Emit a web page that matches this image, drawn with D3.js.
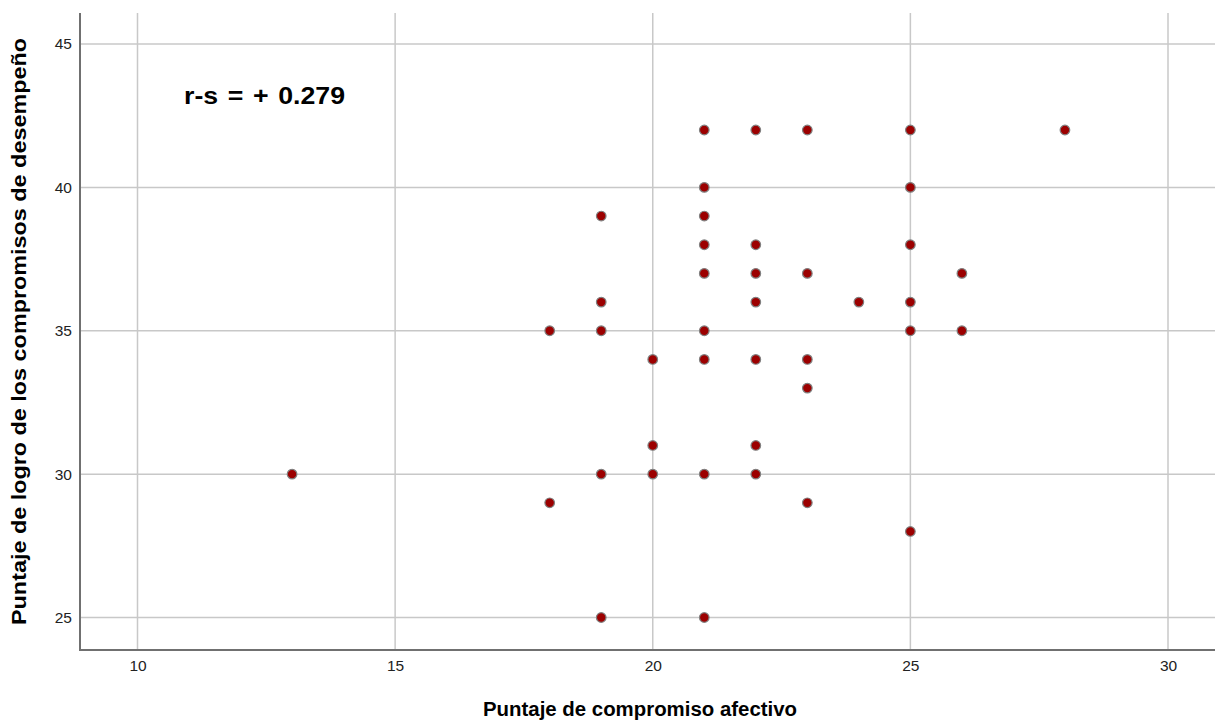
<!DOCTYPE html>
<html><head><meta charset="utf-8">
<script src="https://cdn.jsdelivr.net/npm/d3@7"></script>
<style>body{margin:0;background:#fff}svg{display:block}</style>
</head><body>
<svg id="c" width="1215" height="723"></svg>
<script>
const xTicks = [10, 15, 20, 25, 30];
const yTicks = [25, 30, 35, 40, 45];
const xValues = [13, 18,18, 19,19,19,19,19, 20,20,20, 21,21,21,21,21,21,21,21,21, 22,22,22,22,22,22,22, 23,23,23,23,23, 24, 25,25,25,25,25,25, 26,26, 28];
const yValues = [30, 35,29, 39,36,35,30,25, 34,31,30, 42,40,39,38,37,35,34,30,25, 42,38,37,36,34,31,30, 42,37,34,33,29, 36, 42,40,38,36,35,28, 37,35, 42];
const xTitle = "Puntaje de compromiso afectivo";
const yTitle = "Puntaje de logro de los compromisos de desempeño";
const annotation = "r-s = + 0.279";

const svg = d3.select("#c");
const L = 80, R = 1215, T = 13, B = 650;
const x = d3.scaleLinear().domain([10, 30]).range([137.5, 1168]);
const y = d3.scaleLinear().domain([25, 45]).range([617.5, 44]);
const font = "'Liberation Sans', Arial, sans-serif";

const grid = svg.append("g").attr("stroke", "#c8c8c8").attr("stroke-width", 1.5);
xTicks.forEach(t => grid.append("line").attr("x1", x(t)).attr("x2", x(t)).attr("y1", T).attr("y2", B));
yTicks.forEach(t => grid.append("line").attr("x1", L).attr("x2", R).attr("y1", y(t)).attr("y2", y(t)));

const xAxis = svg.append("g").attr("transform", `translate(0,${B})`)
  .call(d3.axisBottom(x).tickValues(xTicks).tickSize(0).tickPadding(10));
const yAxis = svg.append("g").attr("transform", `translate(${L},0)`)
  .call(d3.axisLeft(y).tickValues(yTicks).tickSize(0).tickPadding(8));
[xAxis, yAxis].forEach(a => {
  a.select(".domain").remove();
  a.selectAll("text").attr("font-family", font).attr("font-size", 15.5).attr("fill", "#222");
});
svg.append("line").attr("x1", L).attr("x2", L).attr("y1", T).attr("y2", B + 1).attr("stroke", "#707070").attr("stroke-width", 2);
svg.append("line").attr("x1", L - 1).attr("x2", R).attr("y1", B).attr("y2", B).attr("stroke", "#707070").attr("stroke-width", 2);

svg.append("g").selectAll("circle").data(xValues.map((v, i) => [v, yValues[i]])).join("circle")
  .attr("cx", d => x(d[0])).attr("cy", d => y(d[1])).attr("r", 4.8)
  .attr("fill", "#9c0000").attr("stroke", "#808080").attr("stroke-width", 1.2);

svg.append("text").attr("x", 184).attr("y", 104).attr("font-family", font).attr("font-weight", "bold")
  .attr("font-size", 24).attr("fill", "#000").attr("word-spacing", 2)
  .attr("textLength", 161).attr("lengthAdjust", "spacingAndGlyphs")
  .text(annotation);

svg.append("text").attr("x", 483).attr("y", 716).attr("font-family", font)
  .attr("font-weight", "bold").attr("font-size", 20).attr("fill", "#000")
  .attr("textLength", 314).attr("lengthAdjust", "spacingAndGlyphs").text(xTitle);
svg.append("text").attr("transform", "translate(26,625) rotate(-90)")
  .attr("font-family", font).attr("font-weight", "bold").attr("font-size", 19.5).attr("fill", "#000")
  .attr("textLength", 587).attr("lengthAdjust", "spacingAndGlyphs").text(yTitle);
</script>
</body></html>
